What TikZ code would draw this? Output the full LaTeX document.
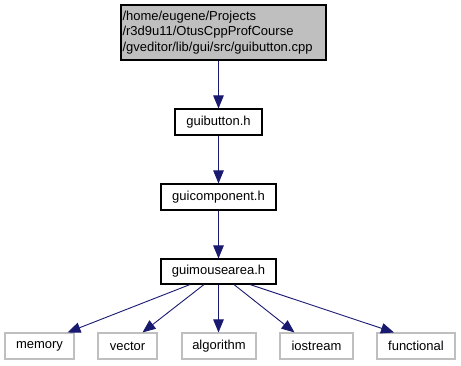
\documentclass[tikz,border=0pt]{standalone}
\usepackage{fontspec}
\setmainfont{Liberation Sans}
\usetikzlibrary{arrows.meta}
\definecolor{edgeblue}{HTML}{191970}
\definecolor{filegray}{HTML}{BFBFBF}
\definecolor{sysgray}{HTML}{BFBFBF}
\tikzset{
  filebox/.style={draw=black, line width=1.1pt, inner sep=0pt, minimum height=26pt,
    font=\fontsize{13}{15.5}\selectfont},
  sysbox/.style={draw=sysgray, line width=1.1pt, inner sep=0pt, minimum height=26pt,
    font=\fontsize{13}{15.5}\selectfont},
  dep/.style={draw=edgeblue, line width=0.9pt,
    -{Triangle[length=13pt,width=10.5pt,fill=edgeblue]}},
}
\begin{document}
\begin{tikzpicture}[x=1pt,y=-1pt]
\useasboundingbox (0,0) rectangle (461,365);
% root source file
\node[filebox, fill=filegray, minimum width=205pt, minimum height=55pt,
      text width=202pt, align=left] (root) at (223.5,32.5)
  {/home/eugene/Projects\\/r3d9u11/OtusCppProfCourse\\/gveditor/lib/gui/src/guibutton.cpp};
% project headers
\node[filebox, minimum width=87pt] (gb) at (218.5,122) {guibutton.h};
\node[filebox, minimum width=115pt] (gc) at (218.5,197) {guicomponent.h};
\node[filebox, minimum width=115pt, minimum height=25pt] (gm) at (218.5,271.5) {guimousearea.h};
% system headers
\node[sysbox, minimum width=69pt] (mem) at (39.5,346) {memory};
\node[sysbox, minimum width=59pt] (vec) at (127.5,346) {vector};
\node[sysbox, minimum width=74pt] (alg) at (219,346) {algorithm};
\node[sysbox, minimum width=73pt] (ios) at (316.5,346) {iostream};
\node[sysbox, minimum width=78pt] (fun) at (416,346) {functional};
% include edges
\draw[dep] (root.south -| gb.north) -- (gb.north);
\draw[dep] (gb.south) -- (gc.north);
\draw[dep] (gc.south) -- (gm.north);
\draw[dep] ([xshift=-28.5pt]gm.south) -- ([xshift=28pt]mem.north);
\draw[dep] ([xshift=-14.5pt]gm.south) -- ([xshift=15pt]vec.north);
\draw[dep] (gm.south) -- (gm.south |- alg.north);
\draw[dep] ([xshift=15.5pt]gm.south) -- ([xshift=-22pt]ios.north);
\draw[dep] ([xshift=31.5pt]gm.south) -- ([xshift=-22pt]fun.north);
\end{tikzpicture}
\end{document}
